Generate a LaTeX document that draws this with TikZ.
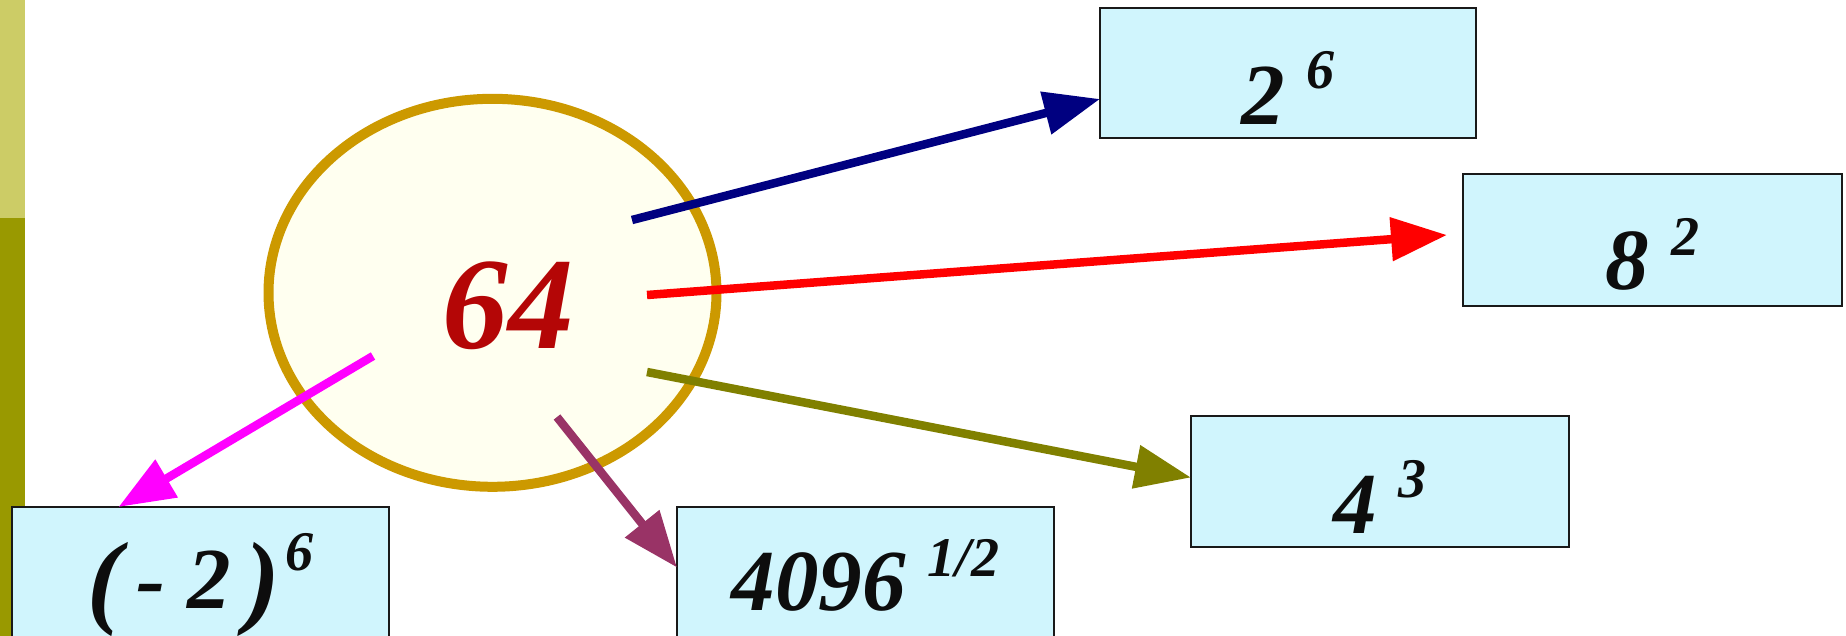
\documentclass[tikz,border=0pt]{standalone}
\usepackage{fontspec}
\setmainfont{Liberation Serif}
\usetikzlibrary{arrows.meta,shapes.geometric}
\definecolor{barlight}{RGB}{204,204,102}
\definecolor{bardark}{RGB}{153,153,0}
\definecolor{boxfill}{RGB}{208,245,253}
\definecolor{ellfill}{RGB}{255,255,240}
\definecolor{elldraw}{RGB}{204,153,0}
\definecolor{numred}{RGB}{180,6,6}
\definecolor{cnavy}{RGB}{0,0,128}
\definecolor{cred}{RGB}{255,0,0}
\definecolor{colive}{RGB}{128,128,0}
\definecolor{cmag}{RGB}{255,0,255}
\definecolor{cmaroon}{RGB}{153,51,102}
\newcommand{\mysup}[2][36pt]{\raisebox{#1}{\fontsize{56}{60}\selectfont #2}}
\newcommand{\bigpar}[1]{\raisebox{-6pt}{\fontsize{104}{110}\selectfont #1}}
\begin{document}
\begin{tikzpicture}[x=1pt,y=-1pt,
  valbox/.style={draw=black!90, line width=2.5pt, fill=boxfill, rectangle,
    inner sep=0pt, outer sep=0pt, minimum width=377pt, minimum height=131pt,
    font=\fontsize{87}{90}\selectfont\bfseries\itshape, text=black!95, text depth=0pt},
  conn/.style={line width=8.5pt, -{Triangle[length=56pt,width=42pt]}},
  bigell/.style={ellipse, draw=elldraw, line width=10pt, fill=ellfill,
    minimum width=448pt, minimum height=388pt, inner sep=0pt, outer sep=0pt}]
\useasboundingbox (0,0) rectangle (1846,636);
% side bar
\fill[barlight] (0,0) rectangle (25,218);
\fill[bardark] (0,218) rectangle (25,636);
% ellipse
\node[bigell] (e64) at (492.5,292.8) {};
\node[font=\fontsize{131}{135}\selectfont\bfseries\itshape, text=numred,
  inner sep=0pt, anchor=base] (t64) at (508,348) {64};
% boxes
\node[valbox, minimum width=376pt, minimum height=130pt, text height=104pt] (b26) at (1288,73) {2 \mysup{6}};
\node[valbox, minimum width=379pt, minimum height=132pt, text height=100pt] (b82) at (1652.5,240) {8 \mysup[35pt]{2}};
\node[valbox, minimum width=378pt, text height=103pt] (b43) at (1380,481.5) {4 \mysup{3}};
\node[valbox, text height=71pt] (bm2) at (200.5,572.5) {\bigpar{(}\,- 2\,\bigpar{)}\hspace{6pt}\mysup[38pt]{6}};
\node[valbox, text height=75pt] (b4096) at (865.5,572.5) {4096 \mysup[34pt]{1/2}};
% start points
\coordinate (sn) at (632,220);
\coordinate (sr) at (647,295);
\coordinate (so) at (647,372);
\coordinate (sm) at (373,356);
\coordinate (sx) at (557,417);
% connectors
\draw[conn, cnavy] (sn) -- ([yshift=-26pt]b26.west);
\draw[conn, cred] (sr) -- ([xshift=-16pt,yshift=5pt]b82.west);
\draw[conn, colive] (so) -- ([yshift=4pt]b43.west);
\draw[conn, cmag] (sm) -- ([xshift=-82pt]bm2.north);
\draw[conn, cmaroon] (sx) -- ([yshift=5pt]b4096.west);
\end{tikzpicture}
\end{document}
